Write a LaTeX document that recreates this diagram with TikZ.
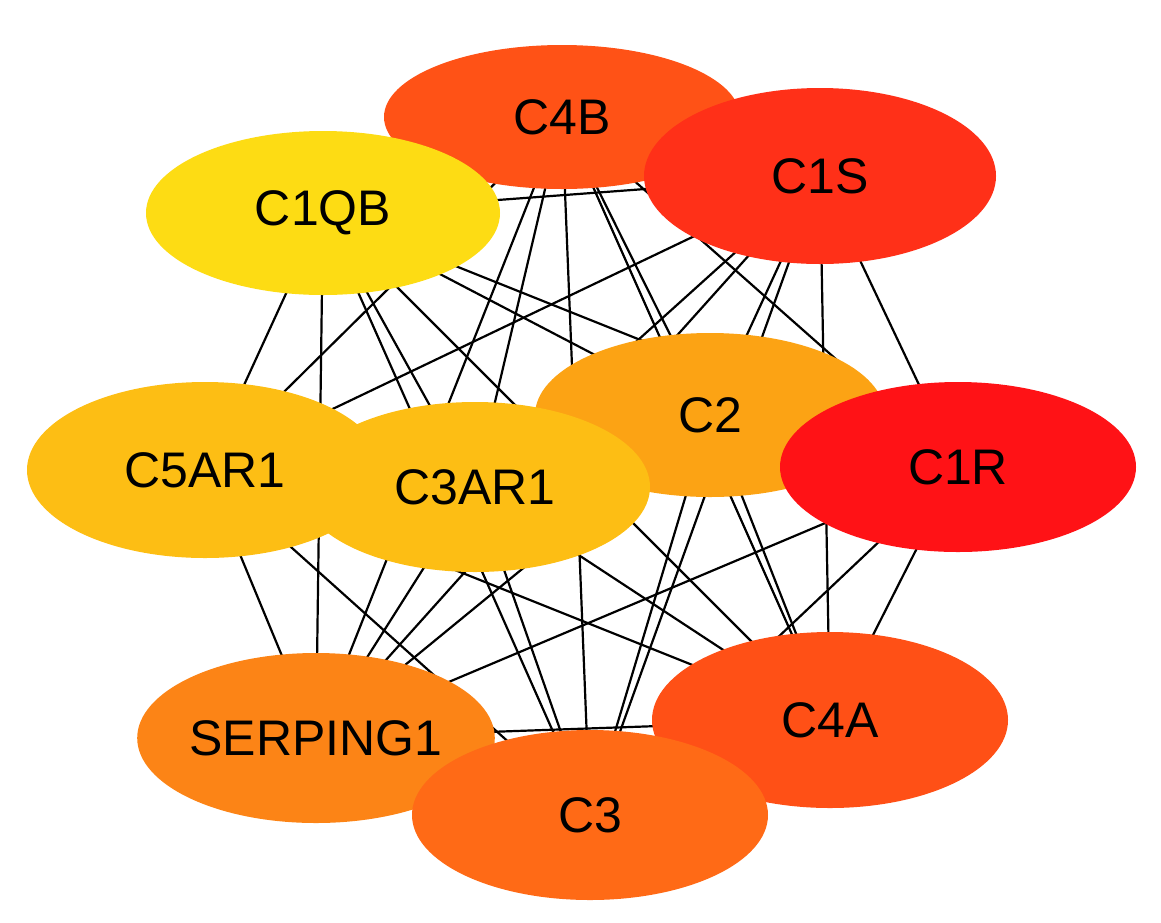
\documentclass[tikz,border=0pt]{standalone}
\usepackage{fontspec}
\setmainfont{Liberation Sans}
\usetikzlibrary{shapes.geometric}
\pgfdeclarelayer{background}
\pgfsetlayers{background,main}
\definecolor{cA}{HTML}{FF5216}
\definecolor{cB}{HTML}{FF3018}
\definecolor{cC}{HTML}{FDDC14}
\definecolor{cD}{HTML}{FCA314}
\definecolor{cE}{HTML}{FF1216}
\definecolor{cF}{HTML}{FDBE14}
\definecolor{cG}{HTML}{FC8416}
\definecolor{cH}{HTML}{FF5016}
\definecolor{cI}{HTML}{FF6A16}
\begin{document}
\begin{tikzpicture}
	[x=0.5pt,y=-0.5pt,every node/.style={ellipse,draw=none,inner sep=0pt,font=\fontsize{25}{30}\selectfont}]
	\tikzstyle{edges} = [line width=1.1pt];
	\useasboundingbox (0,0) rectangle (1161,922);

	\node[fill=cA,minimum width=356*0.5pt,minimum height=144*0.5pt] (c4b) at (562,117) {C4B};
	\node[fill=cB,minimum width=352*0.5pt,minimum height=176*0.5pt] (c1s) at (820,176) {C1S};
	\node[fill=cC,minimum width=354*0.5pt,minimum height=164*0.5pt] (c1qb) at (323,213) {C1QB};
	\node[fill=cD,minimum width=350*0.5pt,minimum height=164*0.5pt] (c2) at (710,415) {C2};
	\node[fill=cE,minimum width=356*0.5pt,minimum height=170*0.5pt] (c1r) at (958,467) {C1R};
	\node[fill=cF,minimum width=356*0.5pt,minimum height=176*0.5pt] (c5ar1) at (205,470) {C5AR1};
	\node[fill=cF,minimum width=350*0.5pt,minimum height=170*0.5pt] (c3ar1) at (475,487) {C3AR1};
	\node[fill=cG,minimum width=324*0.5pt,minimum height=170*0.5pt] (serp) at (316,738) {SERPING1};
	\node[fill=cH,minimum width=356*0.5pt,minimum height=176*0.5pt] (c4a) at (830,720) {C4A};
	\node[fill=cI,minimum width=356*0.5pt,minimum height=170*0.5pt] (c3) at (590,815) {C3};

	\begin{pgfonlayer}{background}
	\foreach \a/\b in {c4b/c1s,c4b/c1qb,c4b/c2,c4b/c1r,c4b/c5ar1,c4b/c3ar1,c4b/serp,c4b/c4a,c4b/c3,
		c1s/c1qb,c1s/c2,c1s/c1r,c1s/c5ar1,c1s/c3ar1,c1s/serp,c1s/c4a,c1s/c3,
		c1qb/c2,c1qb/c1r,c1qb/c5ar1,c1qb/c3ar1,c1qb/serp,c1qb/c4a,c1qb/c3,
		c2/c1r,c2/c5ar1,c2/c3ar1,c2/serp,c2/c4a,c2/c3,
		c1r/c5ar1,c1r/c3ar1,c1r/serp,c1r/c4a,c1r/c3,
		c5ar1/c3ar1,c5ar1/serp,c5ar1/c4a,c5ar1/c3,
		c3ar1/serp,c3ar1/c4a,c3ar1/c3,
		serp/c4a,serp/c3,c4a/c3}
		\draw[edges] (\a.center) -- (\b.center);
	\end{pgfonlayer}
\end{tikzpicture}
\end{document}
